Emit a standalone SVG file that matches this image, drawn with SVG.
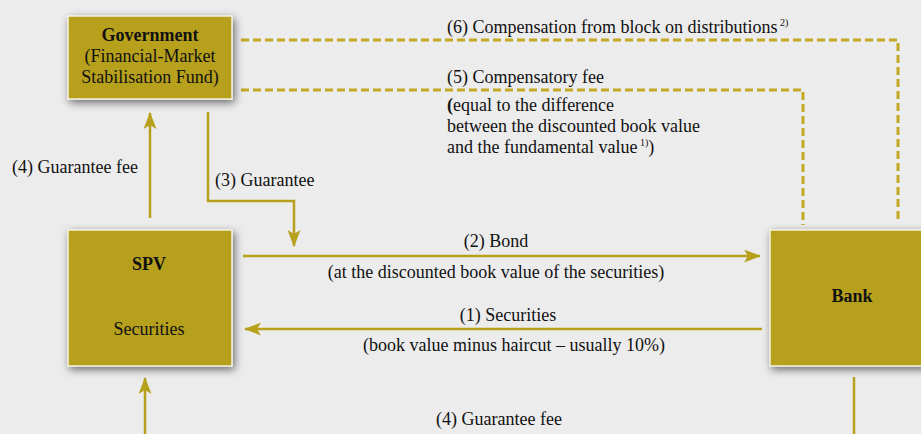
<svg xmlns="http://www.w3.org/2000/svg" width="921" height="434" viewBox="0 0 921 434">
<style>
text{font-family:'Liberation Serif','Times New Roman',serif;font-size:18px;fill:#111}
.b{font-weight:bold}
.box{fill:#b6a01c;stroke:#f4f1e0;stroke-width:1.5}
.ln{fill:none;stroke:#b6a01c;stroke-width:2.5}
.ds{fill:none;stroke:#c2a823;stroke-width:3;stroke-dasharray:8 4}
</style>
<defs>
<filter id="sh" x="-20%" y="-20%" width="150%" height="150%">
<feDropShadow dx="2" dy="3" stdDeviation="4" flood-color="#000" flood-opacity="0.55"/>
</filter>
<marker id="ah" markerUnits="userSpaceOnUse" markerWidth="18" markerHeight="14" refX="16" refY="6.5" orient="auto">
<path d="M0,0 L17,6.5 L0,13 L4,6.5 Z" fill="#b6a01c"/>
</marker>
</defs>
<rect width="921" height="434" fill="#ececec"/>
<g id="connectors">
<path class="ds" d="M241,40 H898 V223"/>
<path class="ds" d="M241,90 H803 V225"/>
<path class="ln" d="M150,218 V113" marker-end="url(#ah)"/>
<path class="ln" d="M208,112 V201 H294 V246" marker-end="url(#ah)"/>
<path class="ln" d="M243,256 H760" marker-end="url(#ah)"/>
<path class="ln" d="M762,329 H245" marker-end="url(#ah)"/>
<path class="ln" d="M145,434 V378" marker-end="url(#ah)"/>
<path class="ln" d="M854,377 V434"/>
</g>
<g id="labels">
<text x="447" y="33">(6) Compensation from block on distributions<tspan font-size="10" dy="-7"> 2)</tspan></text>
<text x="447" y="83">(5) Compensatory fee</text>
<text x="447" y="111"><tspan class="b">(</tspan>equal to the difference</text>
<text x="447" y="132">between the discounted book value</text>
<text x="447" y="153">and the fundamental value<tspan font-size="10" dy="-7"> 1)</tspan><tspan dy="7">)</tspan></text>
<text x="12" y="173">(4) Guarantee fee</text>
<text x="215" y="186">(3) Guarantee</text>
<text x="496" y="247" text-anchor="middle">(2) Bond</text>
<text x="496" y="278" text-anchor="middle">(at the discounted book value of the securities)</text>
<text x="508" y="321" text-anchor="middle">(1) Securities</text>
<text x="514" y="351" text-anchor="middle">(book value minus haircut – usually 10%)</text>
<text x="499" y="425" text-anchor="middle">(4) Guarantee fee</text>
</g>
<g id="government">
<rect class="box" x="68" y="16" width="164" height="83" filter="url(#sh)"/>
<text x="150" y="41" text-anchor="middle" class="b">Government</text>
<text x="150" y="62" text-anchor="middle">(Financial-Market</text>
<text x="150" y="83" text-anchor="middle">Stabilisation Fund)</text>
</g>
<g id="spv">
<rect class="box" x="68" y="230" width="164" height="136" filter="url(#sh)"/>
<text x="149" y="270" text-anchor="middle" class="b">SPV</text>
<text x="149" y="335" text-anchor="middle">Securities</text>
</g>
<g id="bank">
<rect class="box" x="770" y="230" width="164" height="136" filter="url(#sh)"/>
<text x="852" y="302" text-anchor="middle" class="b">Bank</text>
</g>
</svg>
